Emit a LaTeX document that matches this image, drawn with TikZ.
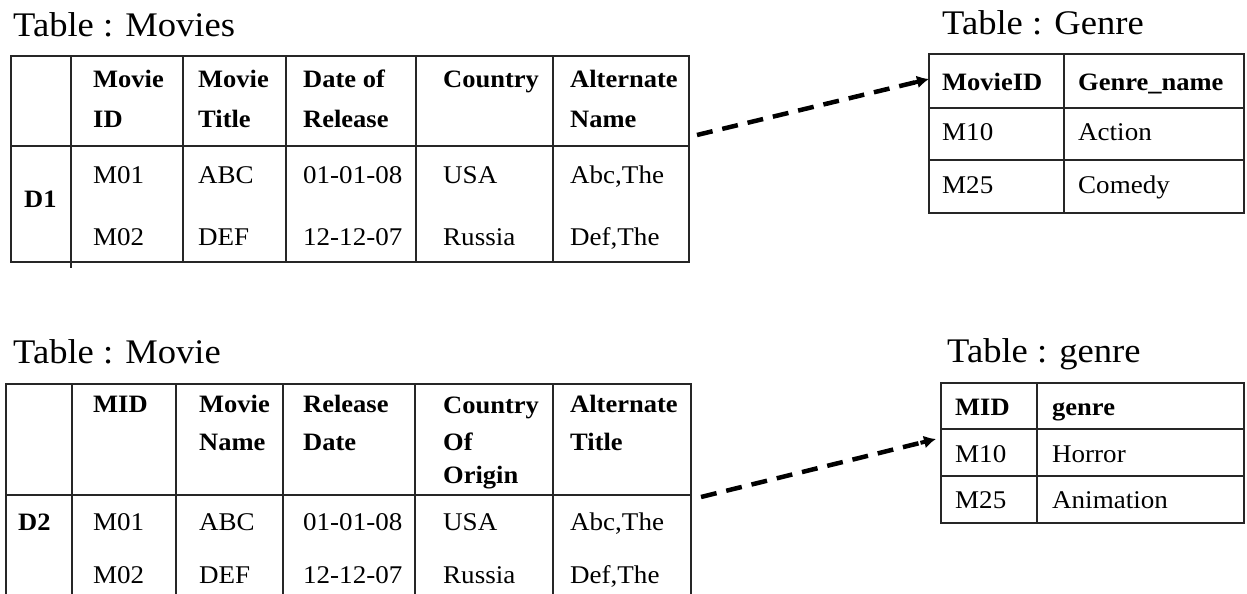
\documentclass[tikz,border=0pt]{standalone}
\usepackage{fontspec}
\setmainfont{Liberation Serif}[FakeStretch=1.06,BoldFeatures={FakeStretch=1.06}]
\usetikzlibrary{arrows.meta,calc}
\tikzset{
  grid/.style={line width=1.4pt, draw=black!85},
  ttl/.style={anchor=base west, inner sep=0pt, font=\fontsize{34.5}{38}\selectfont},
  hd/.style={anchor=base west, inner sep=0pt, font=\fontsize{25}{30}\selectfont\bfseries},
  cell/.style={anchor=base west, inner sep=0pt, font=\fontsize{25.5}{30}\selectfont},
  link/.style={line width=4.5pt, dash pattern=on 16pt off 10pt, shorten >=12pt},
  linkhead/.style={solid, line width=4pt, -{Latex[length=12pt,width=13pt]}}
}
\begin{document}
\begin{tikzpicture}[x=1pt,y=-1pt]
\useasboundingbox (0,0) rectangle (1247,594);

% ---------- Table : Movies ----------
\node[ttl] (t1) at (13,37) {Table : Movies};
\draw[grid] (11,56) rectangle (689,262);
\draw[grid] (11,146) -- (689,146);
\draw[grid] (71,56) -- (71,268);
\foreach \x in {183,286,416,553} \draw[grid] (\x,56) -- (\x,262);
\node[hd] (m1a) at (93,88) {Movie};
\node[hd] (m1b) at (93,127) {ID};
\node[hd] (m2a) at (198,88) {Movie};
\node[hd] (m2b) at (198,127) {Title};
\node[hd] (m3a) at (303,88) {Date of};
\node[hd] (m3b) at (303,127) {Release};
\node[hd] (m4a) at (443,88) {Country};
\node[hd] (m5a) at (570,88) {Alternate};
\node[hd] (m5b) at (570,127) {Name};
\node[hd] (d1) at (24,207) {D1};
\node[cell] (r11) at (93,183) {M01};
\node[cell] (r12) at (198,183) {ABC};
\node[cell] (r13) at (303,183) {01-01-08};
\node[cell] (r14) at (443,183) {USA};
\node[cell] (r15) at (570,183) {Abc,The};
\node[cell] (r21) at (93,245) {M02};
\node[cell] (r22) at (198,245) {DEF};
\node[cell] (r23) at (303,245) {12-12-07};
\node[cell] (r24) at (443,245) {Russia};
\node[cell] (r25) at (570,245) {Def,The};

% ---------- Table : Genre ----------
\node[ttl] (t3) at (942,35) {Table : Genre};
\draw[grid] (929,54) rectangle (1244,213);
\draw[grid] (929,108) -- (1244,108);
\draw[grid] (929,160) -- (1244,160);
\draw[grid] (1064,54) -- (1064,213);
\node[hd] (g1) at (942,90) {MovieID};
\node[hd] (g2) at (1078,90) {Genre\_name};
\node[cell] (g3) at (942,140) {M10};
\node[cell] (g4) at (1078,140) {Action};
\node[cell] (g5) at (942,193) {M25};
\node[cell] (g6) at (1078,193) {Comedy};

% ---------- Table : Movie ----------
\node[ttl] (t2) at (13,363) {Table : Movie};
\draw[grid] (6,600) -- (6,384) -- (691,384) -- (691,600);
\draw[grid] (6,495) -- (691,495);
\foreach \x in {72,176,283,415,553} \draw[grid] (\x,384) -- (\x,600);
\node[hd] (n1a) at (93,412) {MID};
\node[hd] (n2a) at (199,412) {Movie};
\node[hd] (n2b) at (199,450) {Name};
\node[hd] (n3a) at (303,412) {Release};
\node[hd] (n3b) at (303,450) {Date};
\node[hd] (n4a) at (443,413) {Country};
\node[hd] (n4b) at (443,450) {Of};
\node[hd] (n4c) at (443,483) {Origin};
\node[hd] (n5a) at (570,412) {Alternate};
\node[hd] (n5b) at (570,450) {Title};
\node[hd] (d2) at (18,530) {D2};
\node[cell] (s11) at (93,530) {M01};
\node[cell] (s12) at (199,530) {ABC};
\node[cell] (s13) at (303,530) {01-01-08};
\node[cell] (s14) at (443,530) {USA};
\node[cell] (s15) at (570,530) {Abc,The};
\node[cell] (s21) at (93,583) {M02};
\node[cell] (s22) at (199,583) {DEF};
\node[cell] (s23) at (303,583) {12-12-07};
\node[cell] (s24) at (443,583) {Russia};
\node[cell] (s25) at (570,583) {Def,The};

% ---------- Table : genre ----------
\node[ttl] (t4) at (947,362) {Table : genre};
\draw[grid] (941,383) rectangle (1244,523);
\draw[grid] (941,429) -- (1244,429);
\draw[grid] (941,476) -- (1244,476);
\draw[grid] (1037,383) -- (1037,523);
\node[hd] (h1) at (955,415) {MID};
\node[hd] (h2) at (1052,415) {genre};
\node[cell] (h3) at (955,462) {M10};
\node[cell] (h4) at (1052,462) {Horror};
\node[cell] (h5) at (955,508) {M25};
\node[cell] (h6) at (1052,508) {Animation};

% ---------- connectors ----------
\coordinate (a1s) at (697,135);
\coordinate (a1e) at (929,79);
\coordinate (a2s) at (701,497);
\coordinate (a2e) at (936,439);
\draw[link] (a1s) -- (a1e);
\draw[linkhead] ($(a1e)!16pt!(a1s)$) -- (a1e);
\draw[link] (a2s) -- (a2e);
\draw[linkhead] ($(a2e)!16pt!(a2s)$) -- (a2e);
\end{tikzpicture}
\end{document}
